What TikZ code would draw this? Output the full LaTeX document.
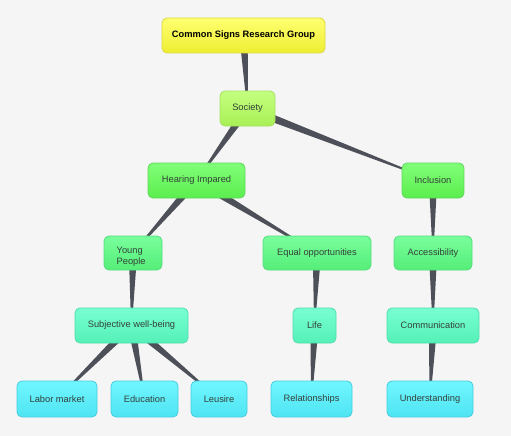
\documentclass[tikz,border=0pt]{standalone}
\usepackage{fontspec}
\setmainfont{Liberation Sans}
\usetikzlibrary{calc}
\definecolor{bg}{HTML}{F5F5F5}
\definecolor{edgecol}{HTML}{4E5059}
\definecolor{txt}{HTML}{33403A}
\definecolor{yA}{HTML}{FFFF70}
\definecolor{yB}{HTML}{EEEE33}
\definecolor{sA}{HTML}{DDD840}
\definecolor{sB}{HTML}{A6E060}\definecolor{tB}{HTML}{C4FF80}\definecolor{bB}{HTML}{A8F055}
\definecolor{sC}{HTML}{5ED85A}\definecolor{tC}{HTML}{80FF78}\definecolor{bC}{HTML}{5CEE4E}
\definecolor{sD}{HTML}{55DD80}\definecolor{tD}{HTML}{78FF9C}\definecolor{bD}{HTML}{55EE78}
\definecolor{sE}{HTML}{50DDB0}\definecolor{tE}{HTML}{78FFD2}\definecolor{bE}{HTML}{55F0B8}
\definecolor{sF}{HTML}{48CCE0}\definecolor{tF}{HTML}{70F6FF}\definecolor{bF}{HTML}{4EE4F2}
\tikzset{
  box/.style={rounded corners=5pt, line width=0.8pt, inner sep=0pt, font=\fontsize{9.3}{10.5}\selectfont, text=txt, minimum height=35pt},
  lvA/.style={box, draw=sA, top color=yA, bottom color=yB, font=\fontsize{9.3}{10.5}\selectfont\bfseries, text=black},
  lvB/.style={box, draw=sB, top color=tB, bottom color=bB},
  lvC/.style={box, draw=sC, top color=tC, bottom color=bC},
  lvD/.style={box, draw=sD, top color=tD, bottom color=bD},
  lvE/.style={box, draw=sE, top color=tE, bottom color=bE},
  lvF/.style={box, draw=sF, top color=tF, bottom color=bF},
}
\newcommand{\taper}[2]{\fill[edgecol] ($(#1)!4.2pt!90:(#2)$) -- ($(#1)!4.2pt!-90:(#2)$) -- ($(#2)!0.4pt!90:(#1)$) -- ($(#2)!0.4pt!-90:(#1)$) -- cycle;}
\begin{document}
\begin{tikzpicture}[x=1pt,y=-1pt]
\fill[bg] (0,0) rectangle (511,436);
\useasboundingbox (0,0) rectangle (511,436);
% coordinates of node centres
\coordinate (croot) at (243.5,35.5);
\coordinate (csoc) at (247.5,108.5);
\coordinate (chear) at (196.5,180.5);
\coordinate (cincl) at (433,180.5);
\coordinate (cyoung) at (133,253);
\coordinate (cequal) at (317,253);
\coordinate (cacc) at (433,253);
\coordinate (csubj) at (131.5,325.5);
\coordinate (clife) at (314.5,325.5);
\coordinate (ccomm) at (433,325.5);
\coordinate (clab) at (57,399);
\coordinate (cedu) at (144.5,399);
\coordinate (cleu) at (219,399);
\coordinate (crel) at (311.5,399);
\coordinate (cund) at (430,399);
% connectors
\taper{croot}{csoc}
\taper{csoc}{chear}
\taper{csoc}{cincl}
\taper{chear}{cyoung}
\taper{chear}{cequal}
\taper{cincl}{cacc}
\taper{cyoung}{csubj}
\taper{cequal}{clife}
\taper{cacc}{ccomm}
\taper{csubj}{clab}
\taper{csubj}{cedu}
\taper{csubj}{cleu}
\taper{clife}{crel}
\taper{ccomm}{cund}
% nodes
\node[lvA, minimum width=163pt] (root) at (croot) {Common Signs Research Group};
\node[lvB, minimum width=55pt] (soc) at (csoc) {Society};
\node[lvC, minimum width=97pt] (hear) at (chear) {Hearing Impared};
\node[lvC, minimum width=62pt] (incl) at (cincl) {Inclusion};
\node[lvD, minimum width=58pt, minimum height=34pt] (young) at (cyoung) {};
\node[align=left, font=\fontsize{9.3}{10.5}\selectfont, text=txt, inner sep=0pt, anchor=north west] (youngtxt) at (116.5,247) {Young\\People};
\node[lvD, minimum width=108pt, minimum height=34pt] (equal) at (cequal) {Equal opportunities};
\node[lvD, minimum width=78pt, minimum height=34pt] (acc) at (cacc) {Accessibility};
\node[lvE, minimum width=113pt] (subj) at (csubj) {Subjective well-being};
\node[lvE, minimum width=43pt] (life) at (clife) {Life};
\node[lvE, minimum width=92pt] (comm) at (ccomm) {Communication};
\node[lvF, minimum width=80pt, minimum height=36pt] (lab) at (clab) {Labor market};
\node[lvF, minimum width=67pt, minimum height=36pt] (edu) at (cedu) {Education};
\node[lvF, minimum width=56pt, minimum height=36pt] (leu) at (cleu) {Leusire};
\node[lvF, minimum width=81pt, minimum height=36pt] (rel) at (crel) {Relationships};
\node[lvF, minimum width=86pt, minimum height=36pt] (und) at (cund) {Understanding};
\end{tikzpicture}
\end{document}
